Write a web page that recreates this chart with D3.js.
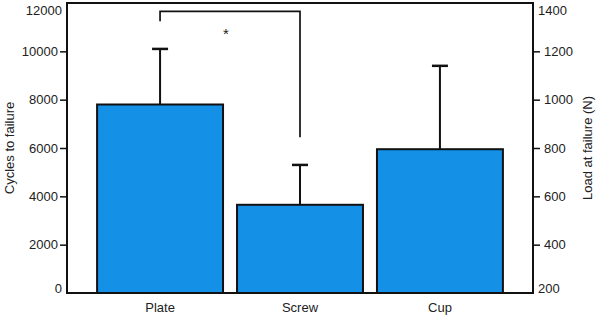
<!DOCTYPE html>
<html>
<head>
<meta charset="utf-8">
<script src="https://cdn.jsdelivr.net/npm/d3@7"></script>
<style>
  body { margin: 0; background: #fff; }
  text { font-family: "Liberation Sans", Arial, sans-serif; fill: #222; }
</style>
</head>
<body>
<div id="chart"></div>
<script>
var categories = ["Plate", "Screw", "Cup"];
var cycleMeans = [7800, 3650, 5950];
var cycleErrors = [2300, 1650, 3450];
var leftTicks = [0, 2000, 4000, 6000, 8000, 10000, 12000];
var rightTicks = [200, 400, 600, 800, 1000, 1200, 1400];
var sigPair = ["Plate", "Screw"];

var outwidth = 597, outheight = 319;
var margin = { left: 67, top: 3, right: 64, bottom: 26 };
var width = outwidth - margin.left - margin.right;
var height = outheight - margin.top - margin.bottom;

var svg = d3.select("#chart").append("svg")
    .attr("width", outwidth)
    .attr("height", outheight)
    .append("g")
    .attr("transform", `translate(${margin.left},${margin.top})`);

var x = d3.scaleBand().domain(categories).range([0, width])
    .paddingInner(0.1).paddingOuter(0.215);
var y = d3.scaleLinear().domain([0, 12000]).range([height, 0]);
var y2 = d3.scaleLinear().domain([200, 1400]).range([height, 0]);

// bars
svg.selectAll(".bar").data(categories).join("rect")
    .attr("class", "bar")
    .attr("x", d => x(d))
    .attr("y", (d, i) => y(cycleMeans[i]))
    .attr("width", x.bandwidth())
    .attr("height", (d, i) => height - y(cycleMeans[i]))
    .attr("fill", "#1490e6")
    .attr("stroke", "#111")
    .attr("stroke-width", 2);

// error bars
var capW = 16;
categories.forEach(function (c, i) {
    var cx = x(c) + x.bandwidth() / 2;
    svg.append("line").attr("x1", cx).attr("x2", cx)
        .attr("y1", y(cycleMeans[i])).attr("y2", y(cycleMeans[i] + cycleErrors[i]))
        .attr("stroke", "#111").attr("stroke-width", 2);
    svg.append("line").attr("x1", cx - capW / 2).attr("x2", cx + capW / 2)
        .attr("y1", y(cycleMeans[i] + cycleErrors[i])).attr("y2", y(cycleMeans[i] + cycleErrors[i]))
        .attr("stroke", "#111").attr("stroke-width", 2.5);
});

// significance bracket
var bx1 = x(sigPair[0]) + x.bandwidth() / 2;
var bx2 = x(sigPair[1]) + x.bandwidth() / 2;
svg.append("path")
    .attr("d", `M${bx1},${y(11250)}V${y(11650)}H${bx2}V${y(6450)}`)
    .attr("fill", "none").attr("stroke", "#111").attr("stroke-width", 1.7);
svg.append("text").attr("x", (bx1 + bx2) / 2 - 4).attr("y", y(10500))
    .attr("text-anchor", "middle").style("font-size", "15px").text("*");

// frame
svg.append("rect").attr("x", 0).attr("y", 0).attr("width", width).attr("height", height)
    .attr("fill", "none").attr("stroke", "#111").attr("stroke-width", 2);

function styleAxis(g, shiftEnds) {
    g.select(".domain").remove();
    g.selectAll(".tick line").attr("stroke", "#111").attr("stroke-width", 1.5);
    g.selectAll(".tick text").style("font-size", "13px").attr("fill", "#222");
    var n = g.selectAll(".tick").size();
    g.selectAll(".tick").each(function (d, i) {
        if (i === 0 || i === n - 1) {
            d3.select(this).select("line").remove();
            d3.select(this).select("text")
                .attr("dy", i === 0 ? "-0.05em" : "0.9em")
                .attr("x", shiftEnds);
        }
    });
}

svg.append("g")
    .call(d3.axisLeft(y).tickValues(leftTicks).tickFormat(d3.format("d"))
        .tickSize(7).tickPadding(2).tickSizeOuter(0))
    .call(g => styleAxis(g, -5));

svg.append("g").attr("transform", `translate(${width},0)`)
    .call(d3.axisRight(y2).tickValues(rightTicks).tickFormat(d3.format("d"))
        .tickSize(7).tickPadding(4).tickSizeOuter(0))
    .call(g => styleAxis(g, 5));

svg.append("g").attr("transform", `translate(0,${height})`)
    .call(d3.axisBottom(x).tickSize(0).tickPadding(10))
    .call(g => {
        g.select(".domain").remove();
        g.selectAll(".tick text").style("font-size", "13px").attr("fill", "#222");
    });

// axis titles
svg.append("text")
    .attr("transform", `translate(${-margin.left + 14},${height / 2}) rotate(-90)`)
    .attr("text-anchor", "middle").style("font-size", "13px")
    .text("Cycles to failure");
svg.append("text")
    .attr("transform", `translate(${width + 59},${height / 2}) rotate(-90)`)
    .attr("text-anchor", "middle").style("font-size", "13px")
    .text("Load at failure (N)");
</script>
</body>
</html>
